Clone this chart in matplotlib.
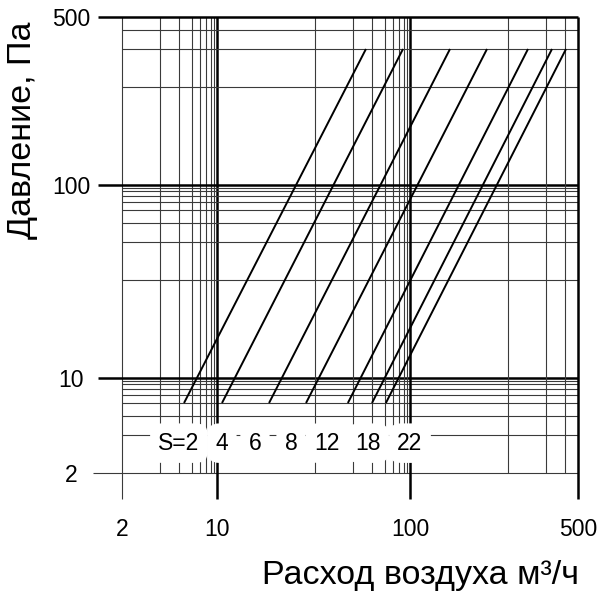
import numpy as np
import matplotlib
matplotlib.use("Agg")
import matplotlib.pyplot as plt

plt.rcParams['font.family'] = ['Liberation Sans', 'DejaVu Sans']

# S-lines: air flow at 5 Pa and at 300 Pa for each setting
s_labels = ['S=2', '4', '6', '8', '12', '18', '22']
flow_low = [4.36, 10.36, 14.45, 18.77, 28.4, 40.0, 51.0]
flow_high = [36.5, 77.9, 132.7, 172.4, 247.6, 328.5, 407.0]
press_low = 5
press_high = 300

grid_vals = [2, 3, 4, 5, 6, 7, 8, 9, 10,
             20, 30, 40, 50, 60, 70, 80, 90, 100,
             200, 300, 400, 500]
major_vals = [10, 100, 500]
tick_vals = [2, 10, 100, 500]

# the chart's odd log-like spacing inside one decade (1..9), in pixels
decade_steps = [0, 98, 136, 155, 168, 176, 182, 187, 190]
decade_len = 193

anchor_log = []
anchor_u = []
for k in range(-2, 5):
    for i, g in enumerate(decade_steps):
        anchor_log.append(np.log10((i + 1) * 10.0 ** k))
        anchor_u.append(k * decade_len + g)
anchor_log = np.array(anchor_log)
anchor_u = np.array(anchor_u, dtype=float)


def forward(v):
    v = np.asarray(v, dtype=float)
    lv = np.log10(np.where(v > 0, v, 1e-10))
    return np.interp(lv, anchor_log, anchor_u)


def inverse(u):
    u = np.asarray(u, dtype=float)
    return 10 ** np.interp(u, anchor_u, anchor_log)


fig = plt.figure(figsize=(6, 6.02), dpi=100)
ax = fig.add_axes([93 / 600, 97 / 602, 492 / 600, 493 / 602])
ax.set_xscale('function', functions=(forward, inverse))
ax.set_yscale('function', functions=(forward, inverse))
ax.set_xlim(inverse(69), inverse(561))
ax.set_ylim(inverse(66), inverse(559))

x_tick_end = inverse(74)
y_tick_end = inverse(72)
x_left = inverse(69)

# grid
for v in grid_vals:
    big = v in major_vals
    lw = 1.8 if big else 0.8
    col = 'black' if big else '#3a3a3a'
    ybot = y_tick_end if (big or v == 2) else 2
    ax.vlines(v, ybot, 500, colors=col, linewidth=lw, zorder=2)
    if v == 2:
        xl = x_left
    elif big:
        xl = x_tick_end
    else:
        xl = 2
    ax.hlines(v, xl, 500, colors=col, linewidth=lw, zorder=2)

# characteristic lines
for lo, hi in zip(flow_low, flow_high):
    ax.plot([lo, hi], [press_low, press_high], color='black', linewidth=1.4,
            zorder=3, solid_capstyle='butt')

# S labels
label_x = [4.0, 10.36, 13.08, 16.88, 22.7, 37.6, 100]
for lab, lx in zip(s_labels, label_x):
    ax.text(lx, 2.75, lab, ha='center', va='center', fontsize=16.5,
            zorder=5,
            bbox=dict(boxstyle='round,pad=0.36,rounding_size=0.5',
                      fc='white', ec='none'))

for sp in ax.spines.values():
    sp.set_visible(False)
ax.set_xticks(tick_vals)
ax.set_xticklabels([str(t) for t in tick_vals])
ax.set_yticks(tick_vals)
ax.set_yticklabels([str(t) for t in tick_vals])
ax.minorticks_off()
ax.tick_params(which='both', length=0, labelsize=16.5)
ax.tick_params(axis='y', pad=15.8)
ax.tick_params(axis='x', pad=18)
for lbl in ax.get_yticklabels():
    lbl.set_ha('center')
for lbl in ax.get_xticklabels():
    lbl.set_va('center')

ax.set_xlabel('Расход воздуха м³/ч', fontsize=24.5, va='center')
ax.xaxis.set_label_coords(0.665, -0.142)
ax.set_ylabel('Давление, Па', fontsize=24.5, va='center')
ax.yaxis.set_label_coords(-0.144, 0.76)

fig.savefig('out.png', dpi=100, facecolor='white')
